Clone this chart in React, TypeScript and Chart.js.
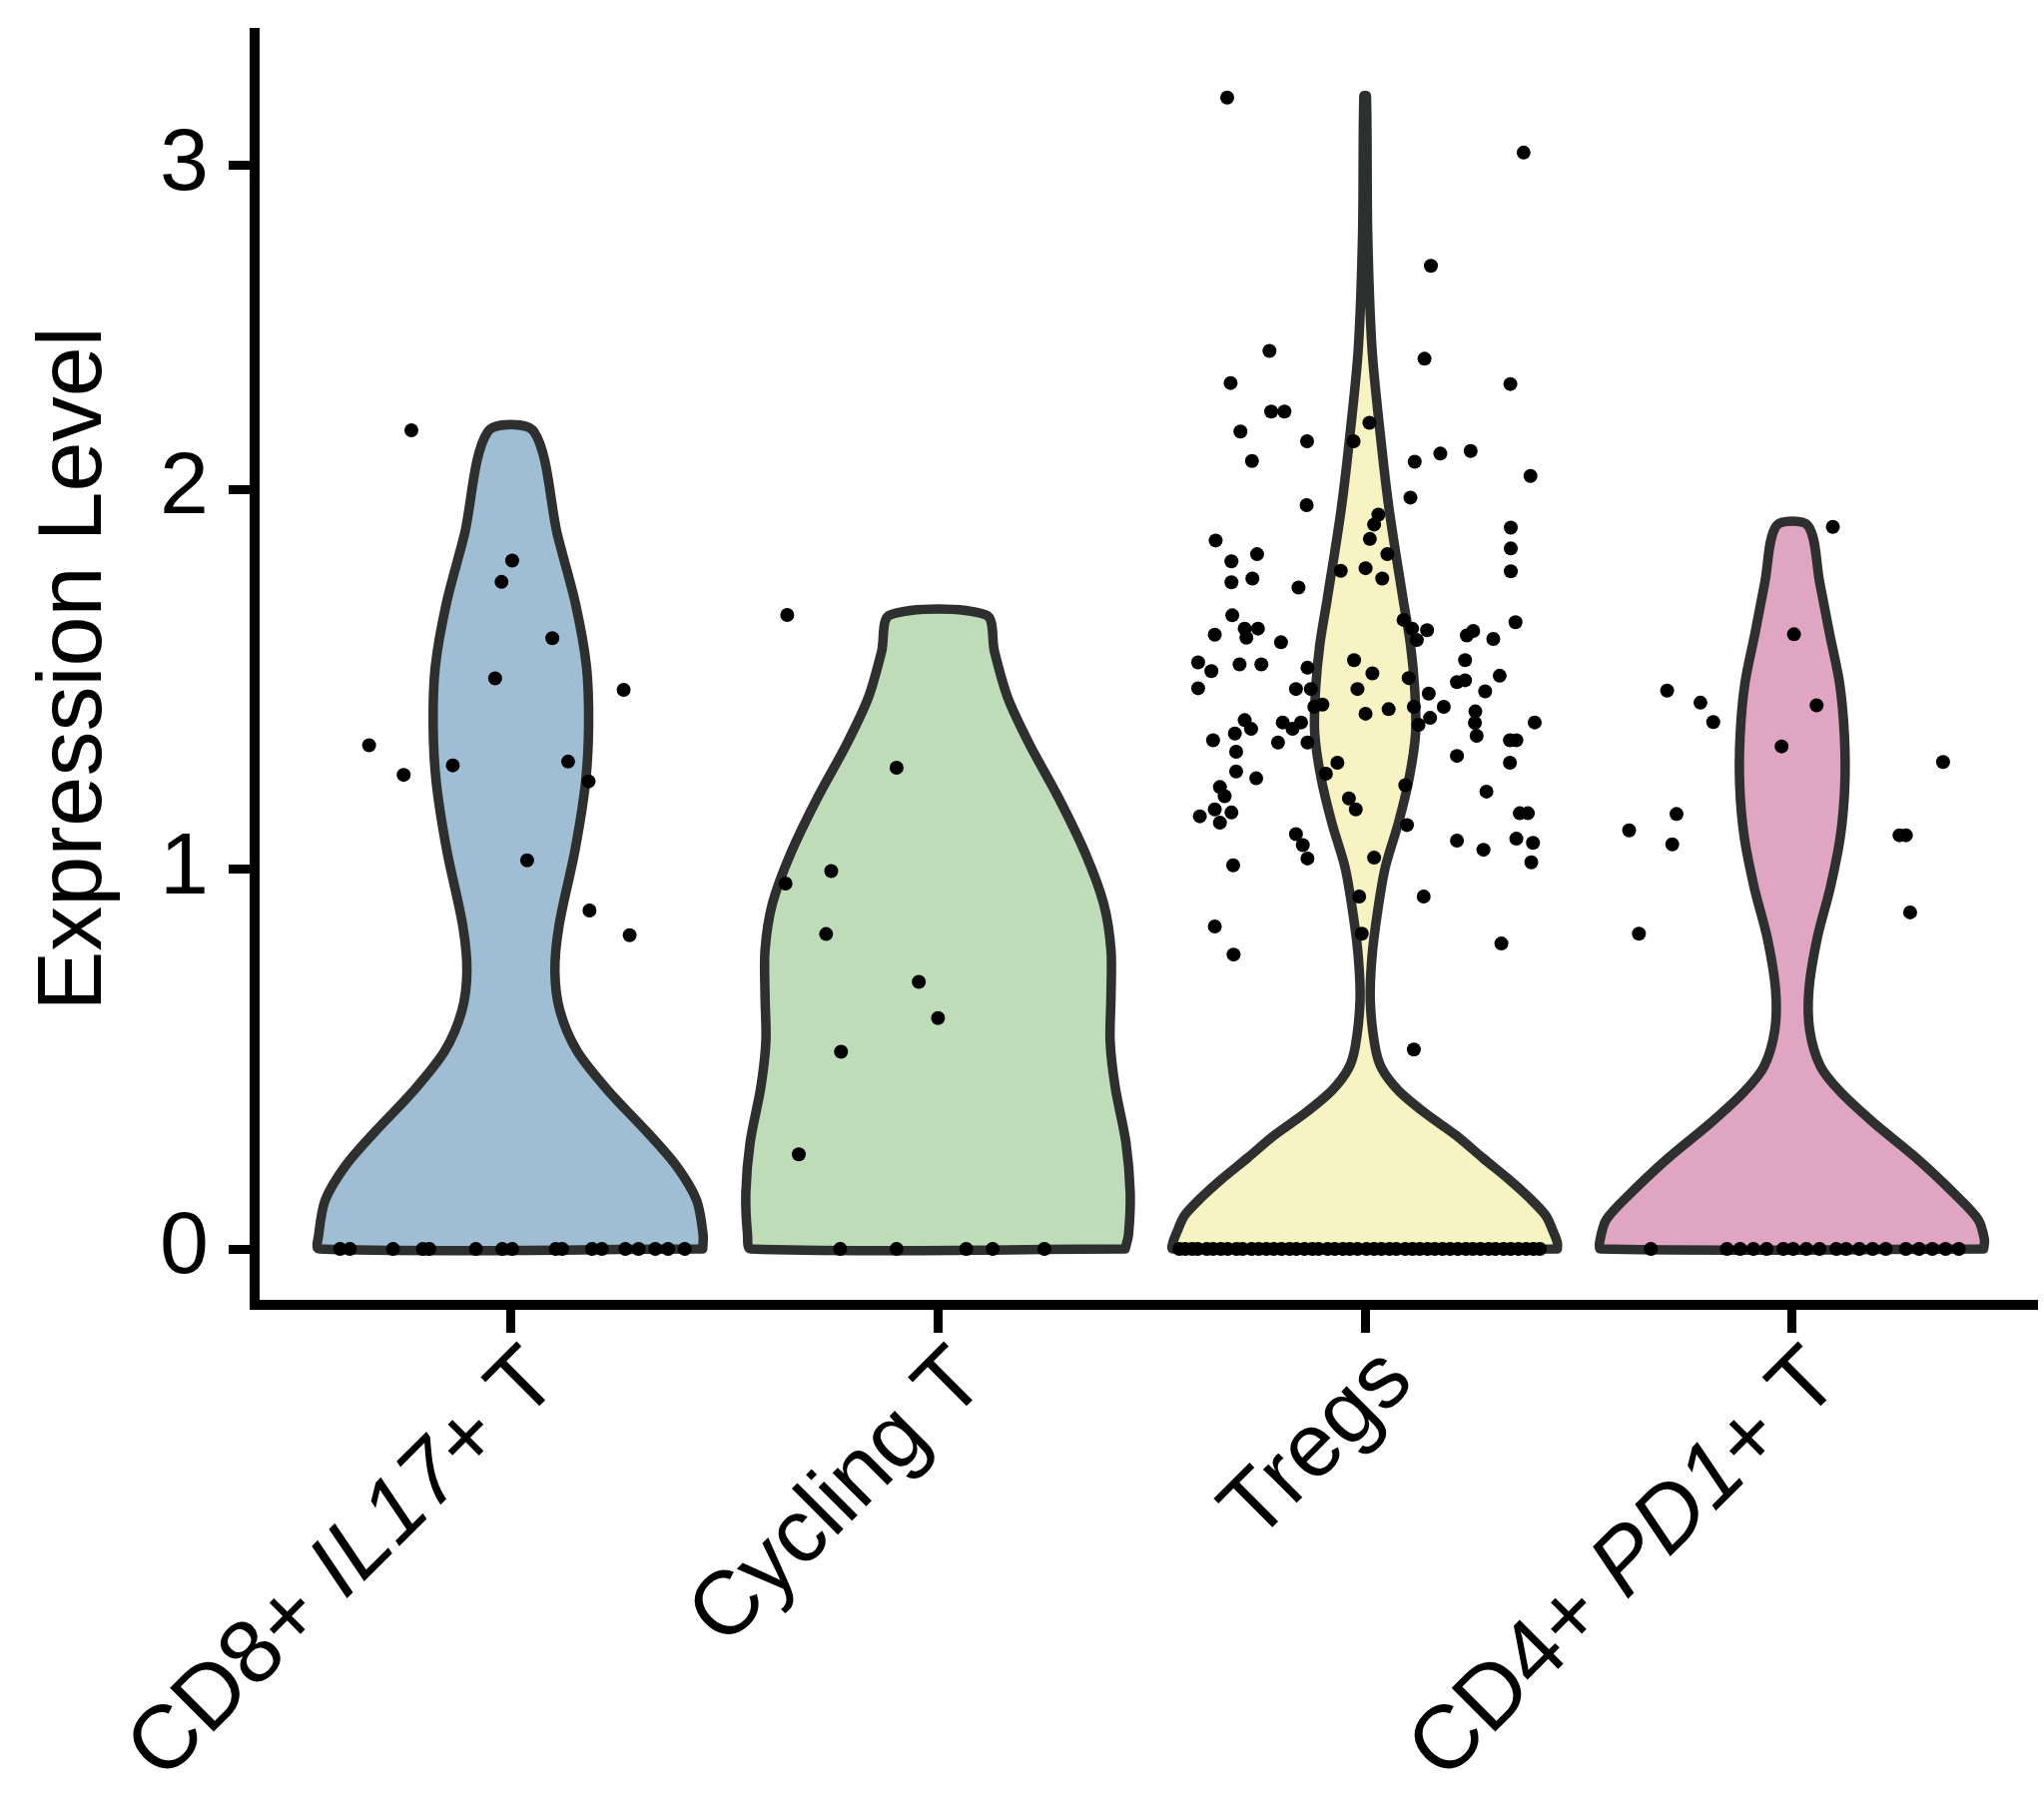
import React, { useEffect, useRef } from 'react';
import { Chart, registerables, LinearScale } from 'chart.js';

Chart.register(...registerables);

// ---------------- data ----------------
const categories = ['CD8+ IL17+ T', 'Cycling T', 'Tregs', 'CD4+ PD1+ T'];
// label segments: [text, italic]
const categoryLabelParts: [string, boolean][][] = [
  [['CD8+ ', false], ['IL17', true], ['+ T', false]],
  [['Cycling T', false]],
  [['Tregs', false]],
  [['CD4+ ', false], ['PD1', true], ['+ T', false]],
];
const yTickValues = [0, 1, 2, 3];
const yAxisTitle = 'Expression Level';

// violin outlines: expression level -> half width (category units)
const cd8Levels = [0, 0.037, 0.128, 0.218, 0.309, 0.415, 0.521, 0.626, 0.732, 0.853, 1.049, 1.231, 1.382, 1.533, 1.70, 1.88, 2.178];
const cd8Half = [0.449, 0.45, 0.435, 0.388, 0.318, 0.229, 0.155, 0.115, 0.103, 0.113, 0.15, 0.175, 0.182, 0.177, 0.151, 0.109, 0.054];

const cyclingLevels = [0, 0.038, 0.147, 0.28, 0.425, 0.546, 0.666, 0.787, 0.908, 1.041, 1.186, 1.331, 1.452, 1.573, 1.669];
const cyclingHalf = [0.438, 0.446, 0.45, 0.44, 0.415, 0.403, 0.405, 0.405, 0.388, 0.345, 0.283, 0.213, 0.163, 0.132, 0.1125];

const tregsLevels = [0, 0.017, 0.052, 0.088, 0.135, 0.182, 0.24, 0.299, 0.358, 0.417, 0.475, 0.534, 0.652, 0.769, 0.887, 1.004, 1.122, 1.239, 1.357, 1.474, 1.592, 1.709, 1.948, 2.175, 2.435, 2.79, 3.215];
const tregsHalf = [0.45, 0.45, 0.438, 0.423, 0.384, 0.338, 0.275, 0.213, 0.14, 0.078, 0.039, 0.023, 0.012, 0.016, 0.029, 0.047, 0.078, 0.103, 0.118, 0.116, 0.106, 0.089, 0.056, 0.035, 0.016, 0.006, 0.003];

const cd4Levels = [0, 0.024, 0.078, 0.145, 0.239, 0.333, 0.414, 0.481, 0.575, 0.682, 0.816, 0.951, 1.085, 1.219, 1.353, 1.488, 1.622, 1.756, 1.904];
const cd4Half = [0.448, 0.45, 0.435, 0.38, 0.291, 0.19, 0.1125, 0.066, 0.041, 0.039, 0.058, 0.089, 0.1125, 0.123, 0.122, 0.111, 0.087, 0.064, 0.037];

// cells: expression value and horizontal jitter (category units)
const cd8Values = [2.182, 1.812, 1.756, 1.608, 1.502, 1.472, 1.326, 1.248, 1.273, 1.283, 1.231, 1.023, 0.891, 0.826];
const cd8Jitter = [-0.233, 0.003, -0.022, 0.097, -0.037, 0.264, -0.332, -0.251, -0.136, 0.134, 0.182, 0.038, 0.184, 0.278];
const cd8ZeroJitter = [-0.4, -0.377, -0.276, -0.206, -0.191, -0.082, -0.02, 0.003, 0.105, 0.12, 0.19, 0.213, 0.268, 0.299, 0.338, 0.368, 0.407];

const cyclingValues = [1.669, 1.267, 0.962, 0.995, 0.829, 0.703, 0.608, 0.519, 0.249];
const cyclingJitter = [-0.353, -0.097, -0.357, -0.25, -0.262, -0.045, 0.0, -0.227, -0.326];
const cyclingZeroJitter = [-0.229, -0.097, 0.066, 0.128, 0.249];

const tregsValues = [
  3.21, 3.04, 2.69, 2.427, 2.403, 2.328, 2.325, 2.24, 2.24, 2.178, 2.205, 2.148, 2.148, 2.087, 2.085, 2.11, 2.118, 2.041,
  1.978, 1.958, 1.899, 1.844, 1.784, 1.933, 1.907, 1.869, 1.829, 1.865, 1.829, 1.81, 1.755, 1.765, 1.741, 1.785, 1.792, 1.765,
  1.668, 1.617, 1.633, 1.609, 1.633, 1.597, 1.65, 1.627, 1.615, 1.606, 1.656, 1.633, 1.629, 1.603,
  1.544, 1.521, 1.476, 1.539, 1.539, 1.53, 1.474, 1.474, 1.427, 1.433, 1.55, 1.515, 1.474, 1.409, 1.421, 1.503, 1.462, 1.427,
  1.427, 1.398, 1.38, 1.55, 1.492, 1.497, 1.468, 1.509, 1.415, 1.385, 1.351, 1.386, 1.339, 1.339, 1.28, 1.298, 1.204, 1.147,
  1.147, 1.08, 1.069, 1.018, 1.075, 1.051, 0.928, 0.804, 0.525,
  1.339, 1.309, 1.357, 1.392, 1.369, 1.257, 1.239, 1.333, 1.386, 1.369, 1.386, 1.333, 1.216, 1.192, 1.139, 1.157, 1.122, 1.149,
  1.092, 1.063, 1.028, 1.01, 0.849, 0.775, 1.251, 1.28, 1.186, 1.157, 1.03, 0.928, 0.83, 1.221, 1.116,
];
const tregsJitter = [
  -0.323, 0.371, 0.154, -0.224, 0.139, -0.315, 0.34, -0.22, -0.189, -0.292, 0.01, -0.136, -0.027, -0.265, 0.116, 0.176, 0.247, 0.387,
  0.106, -0.137, 0.341, 0.341, 0.341, 0.031, 0.021, 0.011, 0.052, -0.35, -0.253, -0.313, -0.313, -0.264, -0.156, -0.057, 0.001, 0.04,
  -0.311, -0.352, -0.282, -0.278, -0.251, -0.197, 0.352, 0.253, 0.238, 0.3, 0.09, 0.11, 0.145, 0.121,
  -0.391, -0.36, -0.391, -0.294, -0.243, -0.135, -0.162, -0.127, -0.119, -0.1, -0.026, 0.017, -0.018, 0.001, 0.055, 0.102, 0.149, 0.184,
  0.114, 0.152, 0.125, 0.234, 0.215, 0.234, 0.281, 0.315, 0.258, 0.257, 0.261, 0.397, 0.339, 0.354, 0.339, 0.215, 0.284, 0.362,
  0.381, 0.354, 0.393, 0.389, 0.215, 0.277, 0.137, 0.319, 0.114,
  -0.356, -0.302, -0.305, -0.282, -0.267, -0.302, -0.255, -0.204, -0.193, -0.17, -0.15, -0.135, -0.34, -0.329, -0.387, -0.352, -0.34, -0.313,
  -0.162, -0.146, -0.135, -0.309, -0.352, -0.308, -0.092, -0.065, -0.038, -0.022, 0.021, -0.014, -0.008, 0.094, 0.098,
];
const tregsZeroJitter = [
  -0.435, -0.421, -0.405, -0.392, -0.371, -0.356, -0.338, -0.322, -0.301, -0.287, -0.266, -0.249, -0.231, -0.214, -0.196, -0.177,
  -0.161, -0.142, -0.124, -0.109, -0.088, -0.071, -0.052, -0.036, -0.018, 0.003, 0.021, 0.038, 0.057, 0.073, 0.094, 0.111, 0.128,
  0.146, 0.163, 0.181, 0.199, 0.217, 0.236, 0.252, 0.27, 0.289, 0.305, 0.324, 0.341, 0.359, 0.377, 0.394, 0.409,
];

const cd4Values = [1.901, 1.618, 1.431, 1.323, 1.47, 1.438, 1.387, 1.282, 1.145, 1.102, 1.065, 1.089, 1.089, 0.886, 0.83];
const cd4Jitter = [0.095, 0.004, 0.057, -0.025, -0.293, -0.215, -0.185, 0.353, -0.271, -0.382, -0.281, 0.251, 0.266, 0.276, -0.359];
const cd4ZeroJitter = [-0.331, -0.153, -0.122, -0.091, -0.06, -0.021, 0.002, 0.033, 0.064, 0.103, 0.126, 0.157, 0.188, 0.219, 0.266, 0.297, 0.328, 0.359, 0.39];

// ---------------- styles ----------------
const FONT = "'Liberation Sans', Arial, Helvetica, sans-serif";
const fillColors = ['#9fbdd3', '#bfdcb8', '#f7f3c3', '#dfa5c3'];
const OUTLINE = '#2d302f';
const W = 2047;
const H = 1804;

// The source figure's y axis is compressed above 2 (tick spacing 2->3 is shorter).
const WARP_BREAK = 2;
const WARP_K = 0.852;
const warp = (v: number) => (v <= WARP_BREAK ? v : WARP_BREAK + (v - WARP_BREAK) * WARP_K);
const unwarp = (w: number) => (w <= WARP_BREAK ? w : WARP_BREAK + (w - WARP_BREAK) / WARP_K);

class WarpLinearScale extends (LinearScale as any) {
  static id = 'warpLinear';
  static defaults = (LinearScale as any).defaults;
  getPixelForValue(value: number) {
    return super.getPixelForValue(value == null ? value : warp(value));
  }
  getValueForPixel(pixel: number) {
    return unwarp(super.getValueForPixel(pixel));
  }
}
Chart.register(WarpLinearScale as any);

function violinPolygon(center: number, levels: number[], half: number[]) {
  const right = levels.map((y, k) => ({ x: center + half[k], y }));
  const left = levels.map((y, k) => ({ x: center - half[k], y })).reverse();
  return [...right, ...left, right[0]];
}

function cellPoints(center: number, values: number[], jitter: number[], zeroJitter: number[]) {
  const pts = values.map((v, k) => ({ x: center + jitter[k], y: v }));
  zeroJitter.forEach((d) => pts.push({ x: center + d, y: 0 }));
  return pts;
}

const violins = [
  [cd8Levels, cd8Half],
  [cyclingLevels, cyclingHalf],
  [tregsLevels, tregsHalf],
  [cd4Levels, cd4Half],
];
const cells = [
  [cd8Values, cd8Jitter, cd8ZeroJitter],
  [cyclingValues, cyclingJitter, cyclingZeroJitter],
  [tregsValues, tregsJitter, tregsZeroJitter],
  [cd4Values, cd4Jitter, cd4ZeroJitter],
];

const X_LABEL_SIZE = 90;
const X_LABEL_DX = 51;
const X_LABEL_DY = 79;

const richXLabels = {
  id: 'richXLabels',
  afterDraw(chart: any) {
    const { ctx } = chart;
    const xs = chart.scales.x;
    ctx.save();
    ctx.fillStyle = '#000';
    ctx.textBaseline = 'alphabetic';
    ctx.textAlign = 'left';
    categoryLabelParts.forEach((parts, i) => {
      const px = xs.getPixelForValue(i);
      const fonts = parts.map((p) => `${p[1] ? 'italic ' : ''}${X_LABEL_SIZE}px ${FONT}`);
      const widths = parts.map((p, k) => {
        ctx.font = fonts[k];
        return ctx.measureText(p[0]).width;
      });
      const total = widths.reduce((a, b) => a + b, 0);
      ctx.save();
      ctx.translate(px + X_LABEL_DX, xs.top + X_LABEL_DY);
      ctx.rotate(-Math.PI / 4);
      let x = -total;
      parts.forEach((p, k) => {
        ctx.font = fonts[k];
        ctx.fillText(p[0], x, 0);
        x += widths[k];
      });
      ctx.restore();
    });
    ctx.restore();
  },
};

export default function App() {
  const ref = useRef<HTMLCanvasElement>(null);
  useEffect(() => {
    const datasets: any[] = [];
    violins.forEach(([levels, half], i) => {
      datasets.push({
        label: categories[i],
        data: violinPolygon(i, levels, half),
        showLine: true,
        fill: 'shape',
        backgroundColor: fillColors[i],
        borderColor: OUTLINE,
        borderWidth: 9.5,
        borderJoinStyle: 'round',
        borderCapStyle: 'round',
        tension: 0.3,
        pointRadius: 0,
        pointHoverRadius: 0,
        order: 2,
      });
    });
    cells.forEach(([vals, jit, zeros], i) => {
      datasets.push({
        label: categories[i] + ' cells',
        data: cellPoints(i, vals, jit, zeros),
        showLine: false,
        pointRadius: 7,
        pointBackgroundColor: '#000',
        pointBorderWidth: 0,
        borderColor: '#000',
        order: 1,
      });
    });

    const chart = new Chart(ref.current as HTMLCanvasElement, {
      type: 'scatter',
      data: { datasets },
      options: {
        responsive: false,
        animation: false,
        devicePixelRatio: 1,
        events: [],
        layout: { padding: { top: 33, left: 0, right: 0, bottom: 0 } },
        plugins: { legend: { display: false }, tooltip: { enabled: false }, title: { display: false } },
        scales: {
          x: {
            type: 'linear',
            min: -0.6,
            max: 3.573,
            afterBuildTicks: (s: any) => {
              s.ticks = categories.map((_, i) => ({ value: i }));
            },
            afterFit: (s: any) => {
              s.height = H - 1307;
              s.paddingLeft = 0;
              s.paddingRight = 0;
            },
            ticks: { display: false },
            grid: { display: true, drawOnChartArea: false, drawTicks: true, tickLength: 28, tickWidth: 9, tickColor: '#000' },
            border: { display: true, color: '#000', width: 10 },
          },
          y: {
            type: 'warpLinear' as any,
            min: -0.147,
            max: 3.201,
            afterBuildTicks: (s: any) => {
              s.ticks = yTickValues.map((v) => ({ value: v }));
            },
            afterFit: (s: any) => {
              s.width = 255;
              s.paddingTop = 0;
              s.paddingBottom = 0;
            },
            ticks: {
              callback: (v: any) => String(v),
              color: '#000',
              font: { family: FONT, size: 88 },
              padding: 20,
            },
            grid: { display: true, drawOnChartArea: false, drawTicks: true, tickLength: 26, tickWidth: 9, tickColor: '#000' },
            border: { display: true, color: '#000', width: 10 },
            title: {
              display: true,
              text: yAxisTitle,
              color: '#000',
              font: { family: FONT, size: 90, lineHeight: 1.2 },
              padding: { top: 22, bottom: 0 },
            },
          },
        },
      } as any,
      plugins: [richXLabels],
    });
    return () => chart.destroy();
  }, []);

  return (
    <div style={{ position: 'fixed', left: 0, top: 0, width: W, height: H, background: '#fff', overflow: 'hidden' }}>
      <canvas ref={ref} width={W} height={H} style={{ display: 'block', width: W, height: H }} />
    </div>
  );
}
